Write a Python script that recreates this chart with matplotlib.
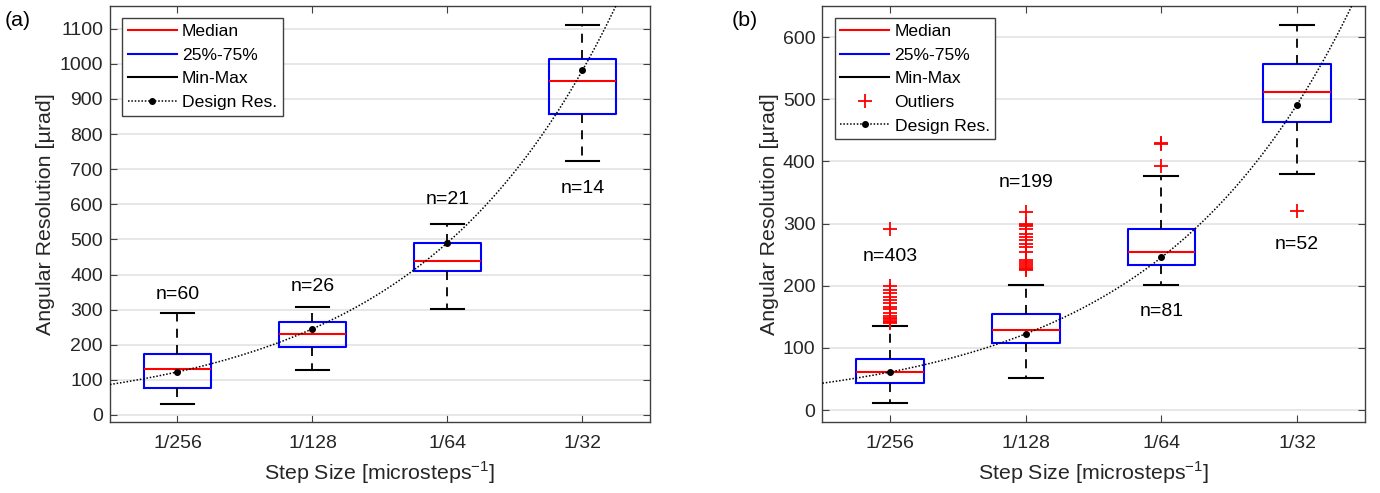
import numpy as np
import matplotlib
matplotlib.use("Agg")
import matplotlib.pyplot as plt
from matplotlib.lines import Line2D

plt.rcParams['font.family'] = ['Liberation Sans', 'DejaVu Sans']

categories = ["1/256", "1/128", "1/64", "1/32"]

# Panel (a)
a_min = [32, 128, 302, 723]
a_q1 = [76, 194, 411, 856]
a_med = [132, 231, 439, 951]
a_q3 = [174, 265, 490, 1015]
a_max = [291, 308, 543, 1110]
a_design = [122.7, 245.4, 490.8, 981.6]
a_n = ["n=60", "n=26", "n=21", "n=14"]
a_n_y = [344, 365, 614, 645]

# Panel (b)
b_min = [11, 51, 201, 380]
b_q1 = [44, 108, 233, 464]
b_med = [61, 129, 254, 511]
b_q3 = [82, 154, 291, 557]
b_max = [136, 202, 376, 619]
b_design = [61.4, 122.8, 245.7, 491.4]
b_n = ["n=403", "n=199", "n=81", "n=52"]
b_n_y = [247, 366, 158, 266]
b_out_256 = [292, 199, 194, 188, 182, 177, 172, 166, 162, 157, 152, 148, 146, 143, 141, 140]
b_out_128 = [318, 300, 298, 296, 292, 284, 279, 273, 268, 262, 255, 241, 238, 235, 232, 229, 227, 225]
b_out_64 = [430, 428, 392]
b_out_32 = [321]
b_outliers = [b_out_256, b_out_128, b_out_64, b_out_32]

fig = plt.figure(figsize=(13.8, 4.93), dpi=100)
ax_a = fig.add_axes([0.0797, 0.144, 0.471 - 0.0797, 0.988 - 0.144])
ax_b = fig.add_axes([0.596, 0.144, 0.989 - 0.596, 0.988 - 0.144])

FS = 14          # ticks, annotations
FS_LAB = 15.4    # axis labels
FS_LEG = 12.6    # legend
pos = np.arange(1, len(categories) + 1)


def draw(ax, mins, q1, med, q3, maxs, design, nlabels, ny, outliers, ylim, yticks, show_out):
    stats = []
    for i in range(len(categories)):
        stats.append(dict(whislo=mins[i], q1=q1[i], med=med[i], q3=q3[i], whishi=maxs[i],
                          fliers=np.array(outliers[i]) if outliers else np.array([]),
                          label=categories[i]))
    ax.bxp(stats, positions=pos, widths=0.5, showfliers=True,
           boxprops=dict(color='blue', linewidth=1.5),
           medianprops=dict(color='red', linewidth=1.5),
           whiskerprops=dict(color='black', linewidth=1.3, linestyle=(0, (5, 4))),
           capprops=dict(color='black', linewidth=1.5),
           flierprops=dict(marker='+', markeredgecolor='red', markersize=10,
                           markeredgewidth=1.3, linestyle='none'),
           capwidths=0.25, zorder=3)
    # design curve: log-linear fit of design values
    coef = np.polyfit(pos, np.log(design), 1)
    xs = np.linspace(0.5, 4.5, 300)
    ax.plot(xs, np.exp(np.polyval(coef, xs)), linestyle=(0, (1, 1.2)), color='black',
            linewidth=1.1, zorder=4)
    ax.plot(pos, design, 'o', color='black', markersize=4, zorder=5)
    for i in range(len(categories)):
        ax.text(pos[i], ny[i], nlabels[i], ha='center', va='center', fontsize=FS)
    ax.set_xlim(0.5, 4.5)
    ax.set_ylim(*ylim)
    ax.set_yticks(yticks)
    ax.set_xticks(pos)
    ax.set_xticklabels(categories)
    ax.yaxis.grid(True, color='#e3e3e3', linewidth=1.2)
    ax.set_axisbelow(True)
    ax.tick_params(direction='in', top=True, right=True, labelsize=FS, length=5,
                   color='#404040', labelcolor='#262626')
    ax.tick_params(axis='x', pad=9)
    ax.tick_params(axis='y', pad=5)
    for s in ax.spines.values():
        s.set_color('#404040')
        s.set_linewidth(1.0)
    ax.set_xlabel('Step Size [microsteps$^{\\mathregular{-1}}$]', fontsize=FS_LAB, labelpad=6,
                  color='#262626')
    ax.set_ylabel('Angular Resolution [µrad]', fontsize=FS_LAB, labelpad=3, color='#262626')
    handles = [Line2D([], [], color='red', lw=1.5),
               Line2D([], [], color='blue', lw=1.5),
               Line2D([], [], color='black', lw=1.5)]
    labels = ['Median', '25%-75%', 'Min-Max']
    if show_out:
        handles.append(Line2D([], [], color='red', marker='+', linestyle='none',
                              markersize=10, markeredgewidth=1.3))
        labels.append('Outliers')
    handles.append(Line2D([], [], color='black', linestyle=(0, (1, 1.2)), lw=1.1,
                          marker='o', markersize=4))
    labels.append('Design Res.')
    leg = ax.legend(handles, labels, loc='upper left', fontsize=FS_LEG, fancybox=False,
                    framealpha=1, edgecolor='#404040', handlelength=2.8,
                    handletextpad=0.3, borderpad=0.32, labelspacing=0.48,
                    borderaxespad=0.7)
    leg.get_frame().set_linewidth(1.0)


draw(ax_a, a_min, a_q1, a_med, a_q3, a_max, a_design, a_n, a_n_y, None,
     (-20, 1165), np.arange(0, 1101, 100), False)
draw(ax_b, b_min, b_q1, b_med, b_q3, b_max, b_design, b_n, b_n_y, b_outliers,
     (-19, 650), np.arange(0, 601, 100), True)

fig.text(5 / 1380, 1 - 20 / 493, '(a)', fontsize=FS_LAB, ha='left', va='center')
fig.text(732 / 1380, 1 - 20 / 493, '(b)', fontsize=FS_LAB, ha='left', va='center')

fig.savefig('out.png', dpi=100)
